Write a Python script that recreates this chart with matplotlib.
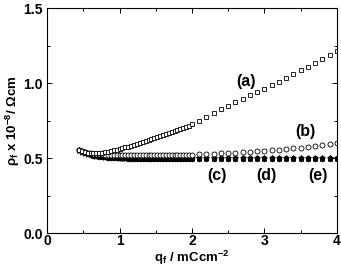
import numpy as np
import matplotlib
matplotlib.use("Agg")
import matplotlib.pyplot as plt
from matplotlib.ticker import MultipleLocator

plt.rcParams["font.family"] = ["Liberation Sans", "DejaVu Sans"]
plt.rcParams["mathtext.fontset"] = "custom"
plt.rcParams["mathtext.rm"] = "Liberation Sans:bold"
plt.rcParams["mathtext.it"] = "Liberation Sans:bold"
plt.rcParams["mathtext.bf"] = "Liberation Sans:bold"

# charge density, mC cm^-2 (dense below 2, sparse above)
q_dense = [0.44, 0.48, 0.52, 0.56, 0.60, 0.64, 0.68, 0.72, 0.76, 0.80,
           0.84, 0.88, 0.92, 0.96, 1.00, 1.04, 1.08, 1.12, 1.16, 1.20,
           1.24, 1.28, 1.32, 1.36, 1.40, 1.44, 1.48, 1.52, 1.56, 1.60,
           1.64, 1.68, 1.72, 1.76, 1.80, 1.84, 1.88, 1.92, 1.96]
q_sparse = [2.0, 2.1, 2.2, 2.3, 2.4, 2.5, 2.6, 2.7, 2.8, 2.9, 3.0,
            3.1, 3.2, 3.3, 3.4, 3.5, 3.6, 3.7, 3.8, 3.9, 4.0]

rho_a = [0.553, 0.545, 0.540, 0.536, 0.534, 0.533, 0.533, 0.534, 0.536, 0.539,
         0.542, 0.546, 0.551, 0.556, 0.561, 0.566, 0.571, 0.577, 0.583, 0.589,
         0.595, 0.601, 0.607, 0.613, 0.619, 0.626, 0.632, 0.639, 0.645, 0.652,
         0.659, 0.666, 0.673, 0.680, 0.687, 0.694, 0.701, 0.709, 0.717,
         0.727, 0.750, 0.775, 0.800, 0.825, 0.850, 0.872, 0.895, 0.918, 0.940,
         0.962, 0.986, 1.010, 1.035, 1.060, 1.085, 1.110, 1.135, 1.160, 1.188, 1.215]
rho_b = [0.553, 0.546, 0.541, 0.537, 0.533, 0.530, 0.528, 0.526, 0.524, 0.523,
         0.522, 0.521, 0.521, 0.520, 0.520, 0.520, 0.520, 0.520, 0.520, 0.520,
         0.520, 0.520, 0.520, 0.520, 0.520, 0.520, 0.520, 0.521, 0.521, 0.521,
         0.521, 0.521, 0.522, 0.522, 0.522, 0.522, 0.522, 0.523, 0.523,
         0.523, 0.525, 0.527, 0.529, 0.531, 0.534, 0.537, 0.540, 0.543, 0.546,
         0.549, 0.553, 0.557, 0.561, 0.565, 0.570, 0.575, 0.580, 0.586, 0.592, 0.600]
rho_c = [0.553, 0.545, 0.538, 0.532, 0.527, 0.523, 0.519, 0.516, 0.514, 0.512,
         0.510, 0.509, 0.508, 0.507, 0.506, 0.505, 0.505, 0.504, 0.504, 0.504,
         0.503, 0.503, 0.503, 0.503, 0.503, 0.503, 0.503, 0.503, 0.503, 0.503,
         0.503, 0.503, 0.503, 0.503, 0.503, 0.503, 0.503, 0.503, 0.503,
         0.503, 0.503, 0.503, 0.503, 0.503, 0.503, 0.503, 0.503, 0.503, 0.503,
         0.503, 0.503, 0.503, 0.503, 0.503, 0.503, 0.503, 0.503, 0.503, 0.503, 0.503]
rho_d = [0.552, 0.543, 0.535, 0.529, 0.524, 0.520, 0.516, 0.513, 0.511, 0.509,
         0.507, 0.506, 0.505, 0.504, 0.503, 0.502, 0.502, 0.501, 0.501, 0.501,
         0.500, 0.500, 0.500, 0.500, 0.500, 0.500, 0.500, 0.500, 0.500, 0.500,
         0.500, 0.500, 0.500, 0.500, 0.500, 0.500, 0.500, 0.500, 0.500,
         0.500, 0.500, 0.500, 0.500, 0.500, 0.500, 0.500, 0.500, 0.500, 0.500,
         0.500, 0.500, 0.500, 0.500, 0.500, 0.500, 0.500, 0.500, 0.500, 0.500, 0.500]
rho_e = [0.551, 0.541, 0.532, 0.526, 0.521, 0.516, 0.512, 0.509, 0.507, 0.505,
         0.503, 0.502, 0.501, 0.500, 0.499, 0.498, 0.498, 0.497, 0.497, 0.497,
         0.496, 0.496, 0.496, 0.496, 0.496, 0.496, 0.496, 0.496, 0.496, 0.496,
         0.496, 0.496, 0.496, 0.496, 0.496, 0.496, 0.496, 0.496, 0.496,
         0.496, 0.496, 0.496, 0.496, 0.496, 0.496, 0.496, 0.496, 0.496, 0.496,
         0.496, 0.496, 0.496, 0.496, 0.496, 0.496, 0.496, 0.496, 0.496, 0.496, 0.496]

labels = ["(a)", "(b)", "(c)", "(d)", "(e)"]
label_pos = [(2.75, 1.01), (3.56, 0.675), (2.34, 0.385), (3.03, 0.385), (3.74, 0.385)]

q = q_dense + q_sparse

fig = plt.figure(figsize=(3.41, 2.67), dpi=100)
ax = fig.add_axes([0.138, 0.127, 0.850, 0.843])

ax.plot(q, rho_e, ls="none", marker="h", ms=3.6, color="black", mew=0.5)
ax.plot(q, rho_d, ls="none", marker="*", ms=4.6, color="black", mew=0.5)
ax.plot(q, rho_c, ls="none", marker="o", ms=3.4, color="black", mew=0.5)
ax.plot(q, rho_b, ls="none", marker="o", ms=3.6, mfc="white", mec="black", mew=0.6)
ax.plot(q, rho_a, ls="none", marker="s", ms=3.4, mfc="white", mec="black", mew=0.6)

for lab, (x, y) in zip(labels, label_pos):
    ax.text(x, y, lab, fontsize=11.5, fontweight="bold", ha="center", va="center")

ax.set_xlim(0, 4)
ax.set_ylim(0, 1.5)
ax.xaxis.set_major_locator(MultipleLocator(1))
ax.xaxis.set_minor_locator(MultipleLocator(0.5))
ax.yaxis.set_major_locator(MultipleLocator(0.5))
ax.yaxis.set_minor_locator(MultipleLocator(0.25))
ax.tick_params(which="both", direction="in", top=True, right=True, width=0.7)
ax.tick_params(which="major", length=3.5, labelsize=10)
ax.tick_params(axis="x", which="major", pad=1)
ax.tick_params(axis="y", which="major", pad=3)
ax.tick_params(which="minor", length=2)
for lab in ax.get_xticklabels() + ax.get_yticklabels():
    lab.set_fontweight("bold")
for s in ax.spines.values():
    s.set_linewidth(0.8)

ax.set_xlabel(r"q$_f$ / mCcm$^{-2}$", fontsize=9.5, fontweight="bold", labelpad=0)
ax.set_ylabel(r"$\mathregular{\rho_f}$ x 10$^{-8}$/ $\mathregular{\Omega}$cm",
              fontsize=9.5, fontweight="bold", labelpad=1)

plt.savefig("out.png", dpi=100)
